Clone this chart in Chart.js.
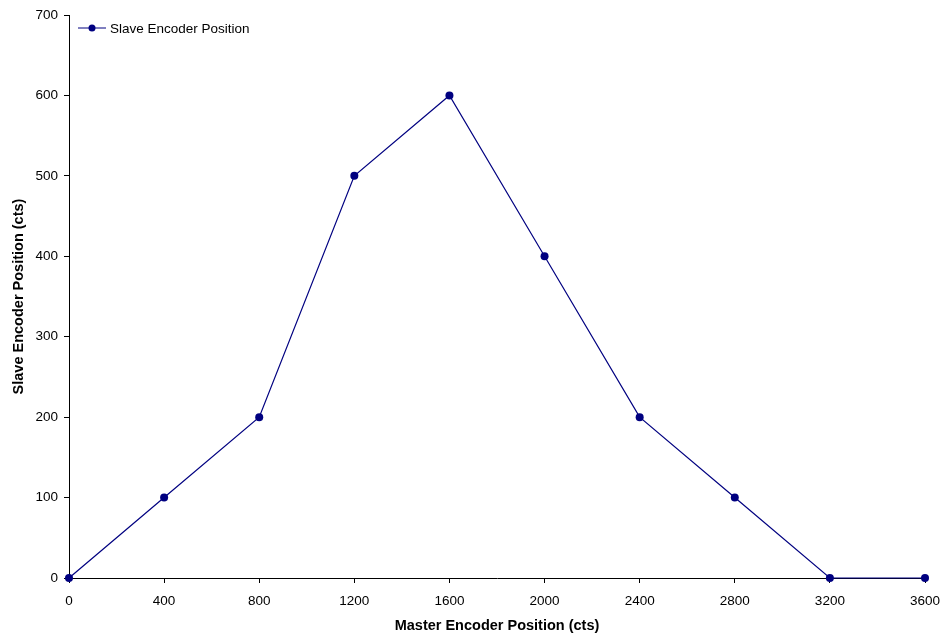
<!DOCTYPE html>
<html>
<head>
<meta charset="utf-8">
<script src="https://cdn.jsdelivr.net/npm/chart.js@4/dist/chart.umd.min.js"></script>
<style>
html,body{margin:0;padding:0;background:#fff;}
#wrap{width:942px;height:635px;}
</style>
</head>
<body>
<div id="wrap"><canvas id="c" width="942" height="635"></canvas></div>
<script>
const seriesLabel = "Slave Encoder Position";
const masterPos = [0, 400, 800, 1200, 1600, 2000, 2400, 2800, 3200, 3600];
const slavePos  = [0, 100, 200, 500, 600, 400, 200, 100, 0, 0];
const xTitle = "Master Encoder Position (cts)";
const yTitle = "Slave Encoder Position (cts)";

const FONT = "'Liberation Sans', Arial, sans-serif";
const NAVY = "#000080";

const legendPlugin = {
  id: 'insideLegend',
  afterDraw(chart) {
    const ctx = chart.ctx;
    const a = chart.chartArea;
    const y = a.top + 13;
    const x0 = a.left + 9;
    ctx.save();
    ctx.strokeStyle = NAVY;
    ctx.lineWidth = 1;
    ctx.beginPath();
    ctx.moveTo(x0, y);
    ctx.lineTo(x0 + 28, y);
    ctx.stroke();
    ctx.fillStyle = NAVY;
    ctx.beginPath();
    ctx.arc(x0 + 14, y, 3.5, 0, Math.PI * 2);
    ctx.fill();
    ctx.fillStyle = "#000";
    ctx.font = "13.5px " + FONT;
    ctx.textBaseline = "middle";
    ctx.textAlign = "left";
    ctx.fillText(chart.data.datasets[0].label, x0 + 32, y + 1);
    ctx.restore();
  }
};

new Chart(document.getElementById('c'), {
  type: 'scatter',
  data: {
    datasets: [{
      label: seriesLabel,
      data: masterPos.map((m, i) => ({x: m, y: slavePos[i]})),
      showLine: true,
      borderColor: NAVY,
      backgroundColor: NAVY,
      borderWidth: 1.2,
      pointRadius: 4,
      pointHoverRadius: 4,
      pointBorderWidth: 0,
      clip: false
    }]
  },
  options: {
    responsive: false,
    animation: false,
    layout: { padding: { top: 15, right: 17, left: 0, bottom: 0 } },
    plugins: { legend: { display: false }, tooltip: { enabled: false } },
    scales: {
      x: {
        type: 'linear', min: 0, max: 3600,
        afterFit(s) { s.height = 57; s.paddingLeft = 0; s.paddingRight = 0; },
        grid: { display: true, drawOnChartArea: false, drawTicks: true, tickLength: 5, color: '#000', lineWidth: 1 },
        border: { display: true, color: '#000', width: 1 },
        ticks: { stepSize: 400, color: '#000', font: { family: FONT, size: 13.5 }, padding: 10, maxRotation: 0,
                 callback: v => String(v) },
        title: { display: true, text: xTitle, color: '#000', font: { family: FONT, size: 14.5, weight: 'bold' }, padding: { top: 0, bottom: 0 } }
      },
      y: {
        type: 'linear', min: 0, max: 700,
        afterFit(s) { s.width = 69; s.paddingTop = 0; s.paddingBottom = 0; },
        grid: { display: true, drawOnChartArea: false, drawTicks: true, tickLength: 5, color: '#000', lineWidth: 1 },
        border: { display: true, color: '#000', width: 1 },
        ticks: { stepSize: 100, color: '#000', font: { family: FONT, size: 13.5 }, padding: 6,
                 callback: v => String(v) },
        title: { display: true, text: yTitle, color: '#000', font: { family: FONT, size: 14.5, weight: 'bold' }, padding: { top: 10, bottom: 0 } }
      }
    }
  },
  plugins: [legendPlugin]
});
</script>
</body>
</html>
